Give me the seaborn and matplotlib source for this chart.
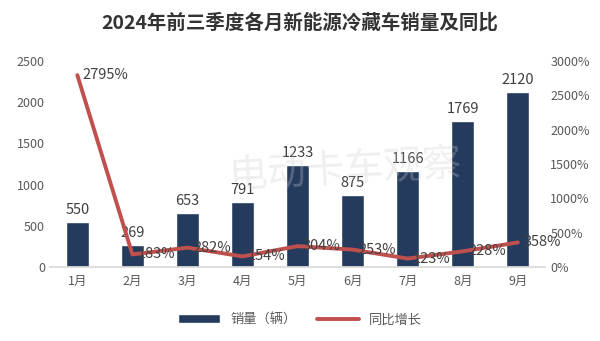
import matplotlib
matplotlib.use("Agg")
import matplotlib.pyplot as plt
import seaborn as sns
import pandas as pd
from matplotlib.patches import Patch
from matplotlib.lines import Line2D
from matplotlib.ticker import FuncFormatter

months = ["1月", "2月", "3月", "4月", "5月", "6月", "7月", "8月", "9月"]
sales = [550, 269, 653, 791, 1233, 875, 1166, 1769, 2120]
yoy = [2795, 183, 282, 154, 304, 253, 123, 228, 358]

sns.set_theme(style="white")
plt.rcParams['font.family'] = ['Noto Sans CJK SC', 'DejaVu Sans']

df = pd.DataFrame({"month": months, "sales": sales, "yoy": yoy})

fig = plt.figure(figsize=(6.0, 3.41), dpi=100)
ax = fig.add_axes([0.083, 0.217, 0.826, 0.604])
bar_c = "#243b5e"
line_c = "#c0504d"
txt_c = "#404040"

sns.barplot(data=df, x="month", y="sales", color=bar_c, width=0.42, ax=ax, saturation=1)
ax.set_ylim(0, 2500)
ax.set_yticks(range(0, 2501, 500))
ax.set_xlabel("")
ax.set_ylabel("")
for i, v in enumerate(sales):
    ax.text(i, v + 60, str(v), ha="center", va="bottom", fontsize=10.5, color=txt_c)

ax2 = ax.twinx()
sns.lineplot(x=list(range(len(months))), y=yoy, color=line_c, linewidth=2.8, ax=ax2)
ax2.set_ylim(0, 3000)
ax2.set_yticks(range(0, 3001, 500))
ax2.yaxis.set_major_formatter(FuncFormatter(lambda v, p: f"{int(v)}%"))
for i, v in enumerate(yoy):
    ax2.text(i + 0.1, v, f"{v}%", ha="left", va="center", fontsize=10.5, color=txt_c)

ax.set_xlim(-0.5, len(months) - 0.5)
for a in (ax, ax2):
    for s in a.spines.values():
        s.set_visible(False)
    a.tick_params(axis="both", length=0, labelsize=9, colors="#595959")
ax.spines["bottom"].set_visible(True)
ax.spines["bottom"].set_color("#d9d9d9")
ax.tick_params(axis="x", pad=6)

fig.text(0.5, 0.935, "2024年前三季度各月新能源冷藏车销量及同比", ha="center", va="center",
         fontsize=14, fontweight="bold", color="#333333")
fig.text(0.575, 0.5, "电动卡车观察", ha="center", va="center", fontsize=28,
         color="#cccccc", alpha=0.3, rotation=3)

handles = [Patch(facecolor=bar_c, label="销量（辆）"),
           Line2D([0], [0], color=line_c, lw=2.8, label="同比增长")]
fig.legend(handles=handles, loc="center", bbox_to_anchor=(0.5, 0.062), ncol=2,
           frameon=False, fontsize=9.5, labelcolor="#595959", handlelength=3.2,
           columnspacing=1.5)

fig.savefig("out.png", dpi=100)
